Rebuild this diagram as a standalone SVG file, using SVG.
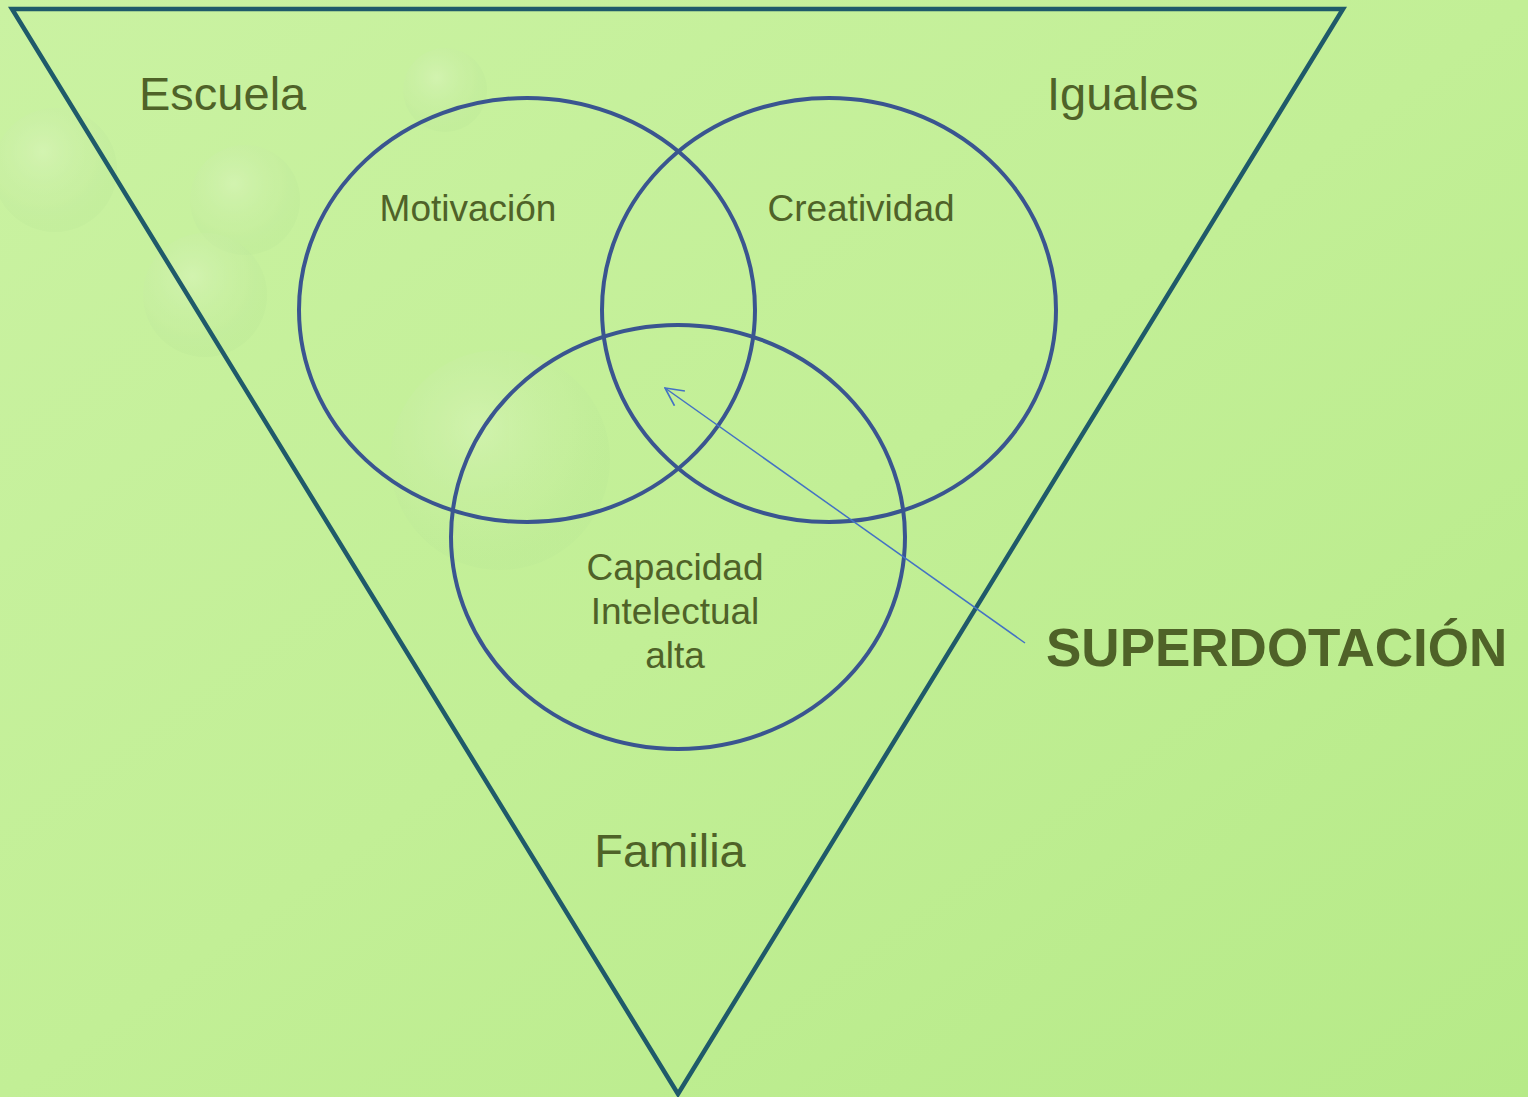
<svg xmlns="http://www.w3.org/2000/svg" width="1528" height="1097" viewBox="0 0 1528 1097">
<defs>
<linearGradient id="bg" x1="0" y1="0" x2="1" y2="1">
<stop offset="0" stop-color="#CAF2A2"/>
<stop offset="0.5" stop-color="#C2EF96"/>
<stop offset="1" stop-color="#B6EA88"/>
</linearGradient>
<radialGradient id="bub" cx="0.4" cy="0.35" r="0.6">
<stop offset="0" stop-color="#E2F7C8" stop-opacity="0.6"/>
<stop offset="0.7" stop-color="#C8EAA8" stop-opacity="0.25"/>
<stop offset="1" stop-color="#A8D890" stop-opacity="0.15"/>
</radialGradient>
<marker id="arr" viewBox="0 0 20 20" refX="19" refY="10" markerWidth="20" markerHeight="20" markerUnits="userSpaceOnUse" orient="auto">
<path d="M1,1 L19,10 L1,19" fill="none" stroke="#4472C4" stroke-width="1.6"/>
</marker>
<style>
.lbl{font-family:"Liberation Sans",Arial,sans-serif;fill:#4F6228;}
.big{font-size:47px;}
.mid{font-size:37px;}
.circ{fill:none;stroke:#3A5590;stroke-width:4;}
</style>
</defs>
<rect width="1528" height="1097" fill="url(#bg)"/>
<g opacity="0.7">
<circle cx="55" cy="170" r="62" fill="url(#bub)"/>
<circle cx="245" cy="200" r="55" fill="url(#bub)"/>
<circle cx="205" cy="295" r="62" fill="url(#bub)"/>
<circle cx="445" cy="90" r="42" fill="url(#bub)"/>
<circle cx="500" cy="460" r="110" fill="url(#bub)"/>
</g>
<g id="triangle">
<polygon points="12,9 1343,9 678,1094" fill="none" stroke="#1F5A6A" stroke-width="4.5" stroke-linejoin="miter"/>
</g>
<g id="motivacion">
<ellipse class="circ" cx="527" cy="310" rx="228" ry="212"/>
<text class="lbl mid" x="468" y="221" text-anchor="middle">Motivación</text>
</g>
<g id="creatividad">
<ellipse class="circ" cx="829" cy="310" rx="227" ry="212"/>
<text class="lbl mid" x="861" y="221" text-anchor="middle">Creatividad</text>
</g>
<g id="capacidad">
<ellipse class="circ" cx="678" cy="537" rx="227" ry="212"/>
<text class="lbl mid" text-anchor="middle"><tspan x="675" y="580">Capacidad</tspan><tspan x="675" y="624">Intelectual</tspan><tspan x="675" y="668">alta</tspan></text>
</g>
<g id="escuela"><text class="lbl big" x="139" y="110">Escuela</text></g>
<g id="iguales"><text class="lbl big" x="1047" y="110" font-size="48">Iguales</text></g>
<g id="familia"><text class="lbl big" x="670" y="867" text-anchor="middle">Familia</text></g>
<g id="superdotacion"><text class="lbl" x="1046" y="666" font-size="53" font-weight="bold">SUPERDOTACIÓN</text></g>
<g id="connectors">
<line x1="1025" y1="643" x2="665" y2="388" stroke="#4472C4" stroke-width="1.5" marker-end="url(#arr)"/>
</g>
</svg>
